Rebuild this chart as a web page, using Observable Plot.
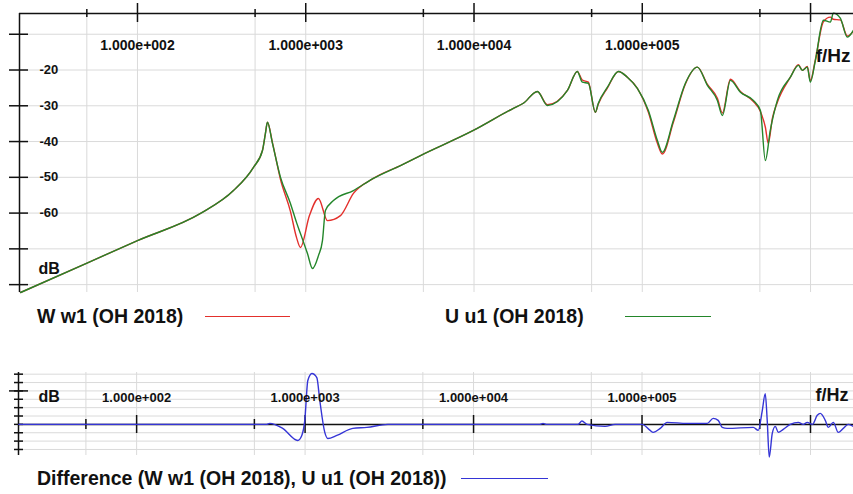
<!DOCTYPE html>
<html>
<head>
<meta charset="utf-8">
<script src="https://cdn.jsdelivr.net/npm/d3@7"></script>
<script src="https://cdn.jsdelivr.net/npm/@observablehq/plot@0.6"></script>
<style>
  html, body { margin: 0; padding: 0; background: #fff; }
  #chart { position: relative; width: 853px; height: 494px; overflow: hidden;
           font-family: "Liberation Sans", Arial, sans-serif; color: #111; }
  .panel { position: absolute; left: 0; }
  .legend { position: absolute; font-weight: bold; font-size: 19.5px; line-height: 20px; white-space: nowrap; }
  .swatch { position: absolute; height: 0; border-top: 1.5px solid; }
</style>
</head>
<body>
<div id="chart"></div>
<script>
// Transfer function magnitude, W w1 (OH 2018): frequency in Hz, level in dB
const wHz = [20.2, 50.5, 100, 237, 372, 489, 553, 576, 592, 634, 708, 811, 881, 930, 1052, 1190, 1346, 1608, 1920,
  2523, 3654, 4808, 9910, 17140, 19640, 23800, 27300, 35900, 41100, 44000, 47800, 52600, 54800, 62100,
  72200, 81500, 93500, 108700, 123000, 131600, 153000, 180400, 212400, 243800, 279400, 299300, 334000,
  383000, 457400, 503400, 538800, 561000, 593000, 635000, 759000, 847000, 894000, 957000, 997000,
  1069000, 1192000, 1312000, 1366000, 1503000, 1654000, 1796000];
const wDb = [-82.2, -73.9, -67.7, -60.1, -53.7, -47.2, -42.5, -37.7, -34.6, -40.3, -50.6, -59.5, -66.8, -69.6, -60.7, -55.9, -62.1, -60.7, -54.5,
  -50.3, -46.7, -43.9, -36.9, -30.7, -29.3, -26.0, -29.7, -25.7, -20.4, -22.8, -23.4, -31.8, -29.5, -25.0,
  -20.4, -22.0, -25.1, -31.8, -40.5, -43.5, -34.6, -23.9, -19.2, -24.0, -27.9, -32.0, -22.6,
  -26.0, -28.8, -31.6, -36.0, -40.5, -33.5, -29.0, -22.0, -18.5, -20.1, -19.0, -23.0,
  -17.0, -6.5, -5.2, -5.8, -6.0, -10.5, -9.2];

// Transfer function magnitude, U u1 (OH 2018)
const uHz = [20.2, 50.5, 100, 237, 372, 489, 553, 576, 592, 634, 708, 811, 881, 930, 1024, 1097, 1190, 1257, 1309, 1461,
  1920, 2523, 3654, 4808, 9910, 17140, 19640, 23800, 27300, 35900, 41100, 44000, 47800, 52600, 54800,
  62100, 72200, 81500, 93500, 108700, 123000, 131600, 153000, 180400, 212400, 243800, 279400, 299300,
  334000, 383000, 457400, 503400, 538800, 576400, 635000, 759000, 847000, 894000, 957000, 997000,
  1069000, 1192000, 1312000, 1366000, 1503000, 1654000, 1796000];
const uDb = [-82.2, -73.9, -67.7, -60.1, -53.7, -47.2, -42.5, -37.7, -34.6, -40.5, -50.0, -57.3, -62.6, -65.7, -71.3, -75.5, -71.9, -67.7, -59.3, -56.5,
  -53.7, -50.3, -46.7, -43.9, -36.9, -30.7, -29.3, -26.0, -29.9, -25.7, -20.4, -23.4, -23.7, -31.8, -29.3,
  -24.8, -20.4, -22.0, -25.1, -31.3, -39.7, -43.0, -34.1, -23.7, -19.2, -24.3, -28.5, -32.7,
  -22.9, -26.2, -28.5, -31.3, -45.3, -36.9, -28.5, -22.0, -18.7, -20.1, -19.2, -23.4,
  -17.3, -6.1, -6.6, -4.1, -5.5, -10.8, -8.9];

// Difference (W w1 − U u1), dB
const diffHz = [20, 502, 592, 617, 736, 905, 956, 996, 1038, 1097, 1174, 1223, 1309, 1364, 1543, 1920, 2326, 3100,
  24800, 25850, 27000, 41700, 44000, 47200, 60400, 69200, 100000, 111700, 116400, 128200, 141000, 185400,
  243800, 264500, 283200, 299300, 320500, 457400, 490000, 517600, 538800, 553500, 569000, 593000, 618000,
  644000, 689000, 759000, 847000, 906000, 957000, 1026000, 1097000, 1143000, 1224000, 1276000, 1366000,
  1462000, 1566000, 1675000, 1796000];
const diffDb = [0, 0, 0, 0.3, -1.2, -4.8, -3.3, 1.2, 13.1, 15.2, 14.0, 7.1, -2.4, -4.2, -3.3, -1.2, -0.9, 0,
  0, 0.3, 0, 0, 1.0, 0, -0.6, 0, 0, -1.8, -2.4, -1.2, 0.6, 0.3,
  0.3, 1.8, 1.2, -0.9, -1.2, -0.9, -1.8, 4.2, 9.2, 1.2, -9.8, -2.7, -0.6,
  -2.4, -1.5, 0, 0.6, 0, 0.6, 0, 2.7, 3.3, 1.2, -0.9, 0.6,
  -2.4, -1.2, 0, -0.6];

// Frequency axis: decades (labelled) and the 5·10ⁿ marks between them
const decadeHz = [100, 1000, 10000, 100000, 1000000];
const decadeLabels = ["1.000e+002", "1.000e+003", "1.000e+004", "1.000e+005", ""];
const halfDecadeHz = [50, 500, 5000, 50000, 500000];
const hzDomain = [19.9, 1.8e6];

// Level axis of the upper panel
const levelTicks = [-10, -20, -30, -40, -50, -60, -70, -80];
const levelLabels = [-20, -30, -40, -50, -60];
const levelDomain = [-82.2, -4.2];

// Level axis of the difference panel
const diffTicks = [-7.5, -5, -2.5, 0, 2.5, 5, 7.5, 10, 12.5, 15];
const diffMajor = [10];
const diffDomain = [-9.3, 15.5];

const RED = "#e3302c", GREEN = "#23862a", BLUE = "#3535d6", GRID = "#dadada", INK = "#111";
const FONT = "'Liberation Sans', Arial, sans-serif";

const wPts = wHz.map((hz, i) => ({hz, db: wDb[i]}));
const uPts = uHz.map((hz, i) => ({hz, db: uDb[i]}));
const dPts = diffHz.map((hz, i) => ({hz, db: diffDb[i]}));
const allGrid = [...halfDecadeHz, ...decadeHz];

const chart = document.getElementById("chart");

// Upper panel: both transfer functions
const upper = Plot.plot({
  width: 853, height: 300,
  marginLeft: 19, marginRight: 0, marginTop: 13, marginBottom: 8,
  style: {fontFamily: FONT, background: "transparent", overflow: "visible", color: INK},
  x: {type: "log", domain: hzDomain, axis: null},
  y: {domain: levelDomain, axis: null},
  marks: [
    Plot.ruleX(allGrid, {stroke: GRID, strokeWidth: 1}),
    Plot.ruleY(levelTicks, {stroke: GRID, strokeWidth: 1}),
    Plot.line(wPts, {x: "hz", y: "db", stroke: RED, strokeWidth: 1.4, curve: "monotone-x"}),
    Plot.line(uPts, {x: "hz", y: "db", stroke: GREEN, strokeWidth: 1.4, curve: "monotone-x"}),
    Plot.ruleY([levelDomain[1]], {stroke: INK, strokeWidth: 1.5}),
    Plot.ruleX([hzDomain[0]], {stroke: INK, strokeWidth: 1.5}),
    Plot.ruleX(decadeHz, {stroke: INK, strokeWidth: 1.5, insetTop: -10, insetBottom: 270}),
    Plot.ruleX(halfDecadeHz, {stroke: INK, strokeWidth: 1.5, insetTop: -4, insetBottom: 275}),
    Plot.ruleY(levelTicks, {stroke: INK, strokeWidth: 1.5, insetLeft: -10, insetRight: 825}),
    Plot.text(decadeHz, {x: d => d, text: (d, i) => decadeLabels[i], frameAnchor: "top", dy: 27,
      fontSize: 14, fontWeight: "bold", fill: INK}),
    Plot.text(levelLabels, {y: d => d, text: d => String(d), frameAnchor: "left", dx: 20,
      textAnchor: "start", fontSize: 13, fontWeight: "bold", fill: INK}),
    Plot.text(["dB"], {text: d => d, frameAnchor: "bottom-left", dx: 19, dy: -19,
      textAnchor: "start", fontSize: 16, fontWeight: "bold", fill: INK}),
    Plot.text(["f/Hz"], {text: d => d, frameAnchor: "top-right", dx: -3, dy: 35,
      textAnchor: "end", fontSize: 19, fontWeight: "bold", fill: INK})
  ]
});
upper.classList.add("panel");
upper.style.top = "0px";
chart.appendChild(upper);

// Lower panel: difference of the two
const lower = Plot.plot({
  width: 853, height: 100,
  marginLeft: 18, marginRight: 0, marginTop: 10, marginBottom: 7,
  style: {fontFamily: FONT, background: "transparent", overflow: "visible", color: INK},
  x: {type: "log", domain: hzDomain, axis: null},
  y: {domain: diffDomain, axis: null},
  marks: [
    Plot.ruleX(allGrid, {stroke: GRID, strokeWidth: 1}),
    Plot.ruleY(diffTicks, {stroke: GRID, strokeWidth: 1}),
    Plot.ruleY([0], {stroke: INK, strokeWidth: 1.5}),
    Plot.ruleX([hzDomain[0]], {stroke: INK, strokeWidth: 1.5}),
    Plot.ruleX(decadeHz, {stroke: INK, strokeWidth: 1.5, insetTop: 43, insetBottom: 22}),
    Plot.ruleX(halfDecadeHz, {stroke: INK, strokeWidth: 1.5, insetTop: 47, insetBottom: 26}),
    Plot.ruleY(diffTicks, {stroke: INK, strokeWidth: 1.5, insetLeft: -4, insetRight: 830}),
    Plot.ruleY(diffMajor, {stroke: INK, strokeWidth: 1.5, insetLeft: -9, insetRight: 825}),
    Plot.line(dPts, {x: "hz", y: "db", stroke: BLUE, strokeWidth: 1.4, curve: "monotone-x"}),
    Plot.text(decadeHz, {x: d => d, y: 0, text: (d, i) => decadeLabels[i], dy: -27,
      fontSize: 13, fontWeight: "bold", fill: INK}),
    Plot.text(["dB"], {text: d => d, frameAnchor: "top-left", dx: 20, dy: 18,
      textAnchor: "start", fontSize: 16, fontWeight: "bold", fill: INK}),
    Plot.text(["f/Hz"], {text: d => d, frameAnchor: "top-right", dx: -5, dy: 16,
      textAnchor: "end", fontSize: 18, fontWeight: "bold", fill: INK})
  ]
});
lower.classList.add("panel");
lower.style.top = "362px";
chart.appendChild(lower);

// Legend entries
const legendItems = [
  {label: "W w1 (OH 2018)", color: RED, tx: 37, ty: 306, x1: 205, x2: 290, ly: 316},
  {label: "U u1 (OH 2018)", color: GREEN, tx: 445, ty: 306, x1: 625, x2: 711, ly: 316},
  {label: "Difference (W w1 (OH 2018), U u1 (OH 2018))", color: BLUE, tx: 37, ty: 468, x1: 461, x2: 548, ly: 478}
];
for (const item of legendItems) {
  const t = document.createElement("div");
  t.className = "legend";
  t.textContent = item.label;
  t.style.left = item.tx + "px";
  t.style.top = item.ty + "px";
  chart.appendChild(t);
  const s = document.createElement("div");
  s.className = "swatch";
  s.style.left = item.x1 + "px";
  s.style.width = (item.x2 - item.x1) + "px";
  s.style.top = item.ly + "px";
  s.style.borderTopColor = item.color;
  chart.appendChild(s);
}
</script>
</body>
</html>
